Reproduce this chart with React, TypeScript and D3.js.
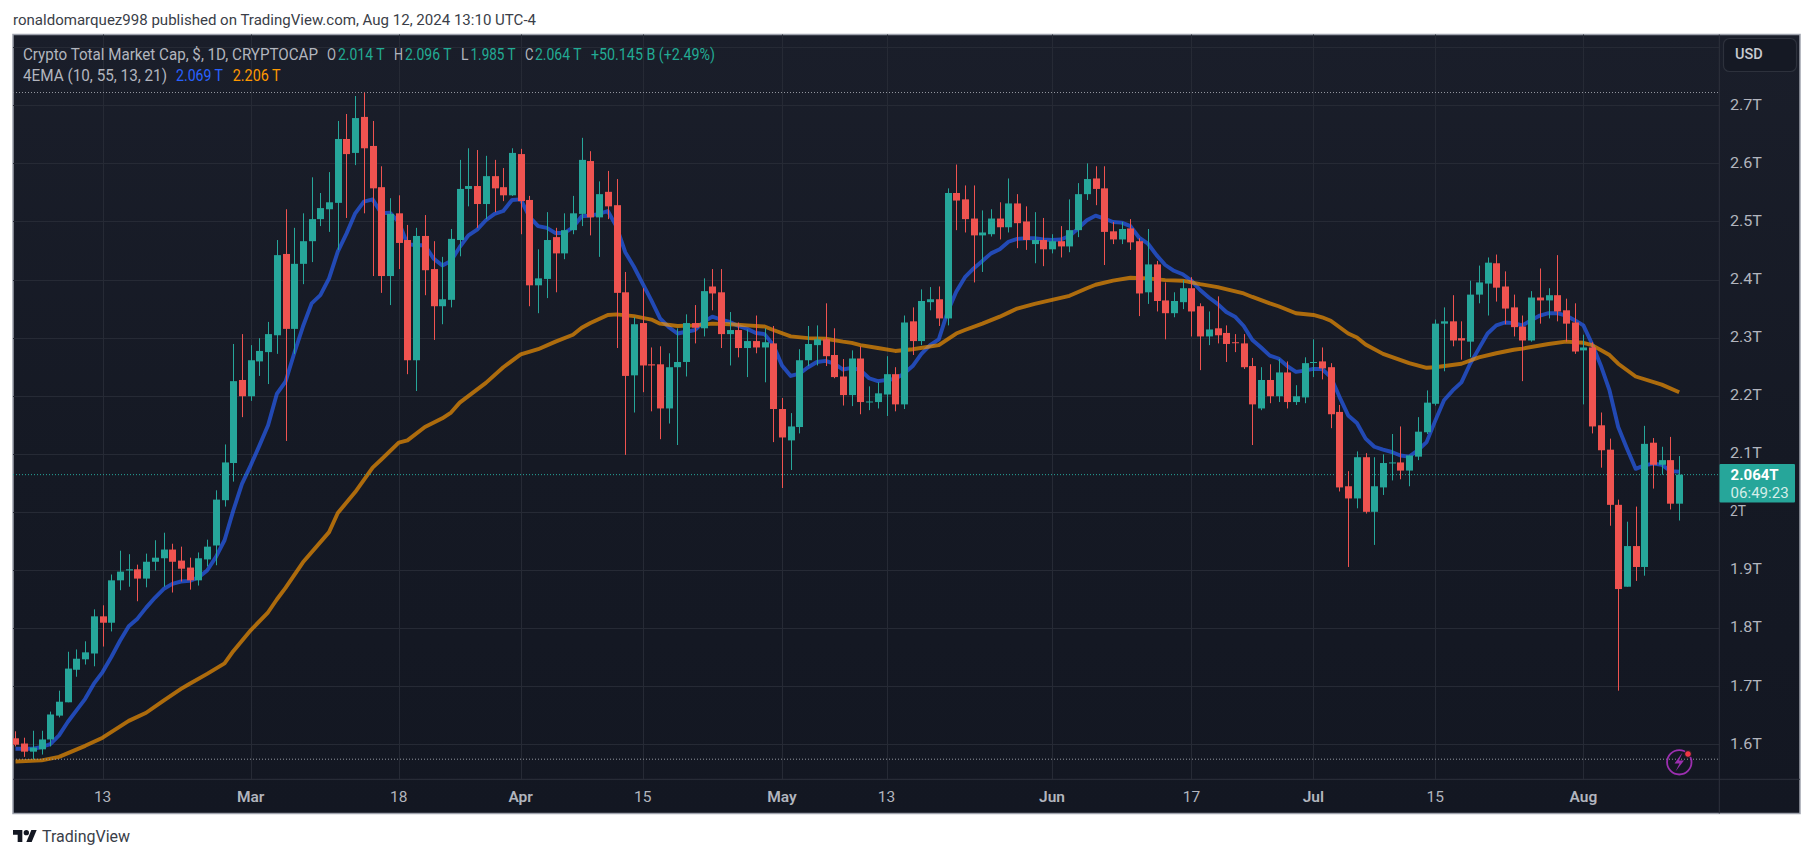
import React from "react";
import * as d3 from "d3";

// Calendar: day 0 is 13 Feb 2024, one candle per day from day -10 to day 181
const firstDay = -10;
const opens = [1.610,1.601,1.587,1.591,1.608,1.649,1.672,1.728,1.746,1.756,
1.820,1.809,1.882,1.899,1.901,1.885,1.914,1.920,1.935,1.916,
1.904,1.882,1.918,1.942,2.020,2.084,2.227,2.199,2.259,2.275,
2.304,2.444,2.315,2.427,2.466,2.504,2.521,2.532,2.642,2.618,
2.680,2.630,2.559,2.406,2.514,2.468,2.261,2.475,2.418,2.354,
2.365,2.468,2.556,2.561,2.530,2.578,2.559,2.545,2.616,2.537,
2.390,2.401,2.473,2.445,2.485,2.513,2.604,2.507,2.551,2.528,
2.378,2.235,2.325,2.254,2.254,2.178,2.249,2.258,2.325,2.316,
2.388,2.378,2.306,2.313,2.282,2.294,2.283,2.290,2.177,2.123,
2.146,2.261,2.287,2.297,2.270,2.233,2.201,2.264,2.189,2.189,
2.202,2.237,2.185,2.328,2.294,2.361,2.366,2.333,2.549,2.538,
2.505,2.476,2.478,2.505,2.490,2.531,2.500,2.461,2.468,2.452,
2.466,2.457,2.485,2.547,2.574,2.557,2.483,2.469,2.488,2.466,
2.378,2.426,2.364,2.342,2.361,2.385,2.354,2.302,2.316,2.308,
2.292,2.290,2.251,2.178,2.227,2.199,2.240,2.189,2.197,2.257,
2.259,2.249,2.172,2.044,2.023,2.094,2.000,2.042,2.084,2.085,
2.071,2.095,2.137,2.186,2.324,2.328,2.299,2.293,2.374,2.393,
2.428,2.388,2.352,2.319,2.295,2.369,2.364,2.373,2.347,2.326,
2.278,2.283,2.149,2.107,2.012,1.871,1.941,1.905,2.119,2.081,
2.089,2.014];
const closes = [1.599,1.587,1.594,1.608,1.651,1.673,1.730,1.747,1.758,1.820,
1.809,1.882,1.897,1.901,1.885,1.914,1.921,1.935,1.914,1.902,
1.882,1.920,1.940,2.021,2.085,2.225,2.199,2.261,2.277,2.306,
2.442,2.315,2.427,2.466,2.504,2.523,2.533,2.642,2.616,2.678,
2.626,2.557,2.406,2.513,2.463,2.261,2.475,2.416,2.354,2.366,
2.470,2.556,2.561,2.530,2.578,2.557,2.545,2.618,2.535,2.390,
2.402,2.468,2.445,2.485,2.514,2.606,2.507,2.547,2.526,2.377,
2.234,2.323,2.252,2.252,2.178,2.249,2.258,2.325,2.317,2.380,
2.376,2.306,2.313,2.282,2.294,2.283,2.292,2.177,2.128,2.147,
2.261,2.289,2.297,2.268,2.232,2.201,2.264,2.189,2.190,2.204,
2.237,2.185,2.326,2.294,2.363,2.366,2.333,2.549,2.536,2.504,
2.476,2.481,2.505,2.490,2.531,2.497,2.468,2.468,2.452,2.466,
2.457,2.485,2.547,2.573,2.556,2.482,2.469,2.487,2.464,2.376,
2.426,2.363,2.342,2.363,2.385,2.345,2.302,2.314,2.304,2.289,
2.291,2.249,2.185,2.227,2.199,2.240,2.189,2.199,2.256,2.258,
2.247,2.168,2.042,2.023,2.094,2.000,2.044,2.084,2.085,2.071,
2.097,2.138,2.188,2.324,2.328,2.295,2.295,2.374,2.395,2.429,
2.386,2.350,2.318,2.295,2.369,2.364,2.373,2.345,2.324,2.276,
2.283,2.147,2.106,2.012,1.867,1.941,1.905,2.117,2.081,2.089,
2.014,2.064];
const highs = [1.622,1.611,1.623,1.623,1.656,1.692,1.759,1.763,1.777,1.832,
1.839,1.892,1.933,1.927,1.909,1.928,1.951,1.964,1.945,1.940,
1.921,1.930,1.952,2.037,2.116,2.289,2.306,2.287,2.299,2.327,
2.468,2.521,2.489,2.514,2.576,2.549,2.585,2.673,2.685,2.716,
2.722,2.673,2.595,2.540,2.545,2.494,2.489,2.511,2.466,2.439,
2.487,2.606,2.626,2.623,2.613,2.606,2.592,2.626,2.625,2.544,
2.452,2.516,2.489,2.514,2.544,2.644,2.621,2.569,2.587,2.573,
2.413,2.335,2.385,2.283,2.285,2.273,2.316,2.340,2.356,2.402,
2.418,2.418,2.344,2.326,2.314,2.338,2.316,2.320,2.196,2.170,
2.280,2.320,2.321,2.359,2.316,2.263,2.278,2.285,2.216,2.223,
2.268,2.249,2.338,2.352,2.383,2.387,2.388,2.557,2.598,2.562,
2.562,2.519,2.521,2.533,2.574,2.547,2.526,2.516,2.506,2.478,
2.492,2.538,2.566,2.600,2.595,2.595,2.499,2.499,2.504,2.471,
2.487,2.432,2.395,2.378,2.399,2.404,2.359,2.345,2.371,2.321,
2.306,2.306,2.265,2.249,2.254,2.263,2.259,2.218,2.266,2.297,
2.283,2.256,2.184,2.070,2.104,2.101,2.094,2.099,2.134,2.147,
2.097,2.163,2.209,2.331,2.352,2.373,2.328,2.398,2.424,2.438,
2.443,2.414,2.374,2.338,2.380,2.419,2.385,2.442,2.367,2.359,
2.305,2.292,2.171,2.126,2.021,1.983,2.009,2.148,2.127,2.112,
2.129,2.096];
const lows = [1.596,1.578,1.574,1.582,1.596,1.646,1.672,1.716,1.737,1.734,
1.768,1.794,1.865,1.871,1.846,1.870,1.899,1.871,1.861,1.880,
1.866,1.873,1.906,1.908,2.009,2.052,2.163,2.191,2.234,2.220,
2.272,2.122,2.272,2.392,2.430,2.492,2.482,2.451,2.506,2.597,
2.514,2.406,2.377,2.356,2.418,2.237,2.208,2.373,2.296,2.323,
2.352,2.440,2.526,2.489,2.504,2.516,2.535,2.544,2.478,2.354,
2.342,2.368,2.378,2.435,2.478,2.492,2.476,2.439,2.504,2.282,
2.098,2.171,2.206,2.173,2.125,2.152,2.115,2.233,2.290,2.302,
2.347,2.282,2.252,2.266,2.232,2.273,2.223,2.120,2.041,2.072,
2.135,2.251,2.252,2.251,2.230,2.183,2.182,2.168,2.175,2.178,
2.165,2.173,2.177,2.270,2.287,2.347,2.320,2.321,2.485,2.481,
2.395,2.413,2.474,2.469,2.481,2.454,2.451,2.428,2.423,2.445,
2.438,2.447,2.473,2.537,2.528,2.425,2.461,2.461,2.451,2.337,
2.358,2.345,2.297,2.335,2.349,2.302,2.244,2.287,2.290,2.258,
2.275,2.246,2.115,2.175,2.187,2.189,2.178,2.184,2.187,2.232,
2.228,2.144,2.035,1.905,2.006,1.997,1.943,2.029,2.054,2.056,
2.044,2.089,2.134,2.183,2.242,2.285,2.262,2.266,2.359,2.338,
2.362,2.323,2.302,2.225,2.293,2.324,2.333,2.328,2.293,2.272,
2.185,2.135,2.076,1.976,1.692,1.871,1.881,1.890,2.040,2.064,
2.004,1.985];

const fastEma = [1.592,1.592,1.592,1.595,1.600,1.615,1.638,1.658,1.678,1.704,
1.724,1.750,1.778,1.803,1.816,1.835,1.852,1.867,1.876,1.880,
1.881,1.887,1.899,1.922,1.951,2.002,2.048,2.080,2.114,2.149,
2.203,2.224,2.273,2.319,2.359,2.373,2.402,2.448,2.479,2.514,
2.534,2.538,2.514,2.515,2.499,2.461,2.459,2.459,2.436,2.424,
2.432,2.456,2.476,2.486,2.502,2.513,2.518,2.537,2.538,2.508,
2.492,2.489,2.480,2.480,2.490,2.509,2.510,2.513,2.518,2.491,
2.447,2.422,2.393,2.364,2.333,2.318,2.307,2.310,2.313,2.327,
2.336,2.331,2.327,2.320,2.315,2.308,2.306,2.287,2.252,2.234,
2.238,2.249,2.258,2.260,2.255,2.245,2.248,2.244,2.230,2.225,
2.227,2.229,2.238,2.251,2.272,2.287,2.297,2.344,2.379,2.404,
2.419,2.432,2.445,2.452,2.465,2.470,2.471,2.471,2.469,2.468,
2.469,2.475,2.488,2.502,2.510,2.505,2.499,2.498,2.492,2.472,
2.462,2.442,2.425,2.415,2.409,2.398,2.382,2.369,2.358,2.344,
2.336,2.320,2.296,2.283,2.269,2.264,2.251,2.241,2.243,2.246,
2.246,2.232,2.198,2.166,2.153,2.126,2.112,2.107,2.103,2.097,
2.095,2.106,2.120,2.157,2.192,2.209,2.223,2.255,2.281,2.307,
2.321,2.326,2.325,2.321,2.330,2.338,2.342,2.342,2.338,2.330,
2.321,2.289,2.252,2.209,2.146,2.109,2.074,2.080,2.083,2.081,
2.070,2.069];

const slowEmaDays = [-10,-7,-5,-2,0,3,5,7,9,10,12,14,15,17,19,20,21,23,26,27,29,31,32,34,35,37,39,40,41,44,46,48,50,52,54,55,56,58,59,61,63,64,66,68,70,72,74,76,77,79,81,83,85,86,87,89,91,93,96,98,99,101,103,104,105,107,109,111,113,114,116,118,120,122,124,126,128,131,132,134,135,137,139,140,141,143,144,145,147,150,152,153,156,158,160,162,163,166,168,170,171,173,174,176,179,181];
const slowEma = [1.570,1.572,1.578,1.597,1.611,1.640,1.654,1.675,1.695,1.704,1.721,1.739,1.760,1.796,1.827,1.849,1.869,1.913,1.965,1.998,2.034,2.076,2.090,2.119,2.123,2.146,2.161,2.171,2.188,2.222,2.249,2.271,2.280,2.293,2.305,2.317,2.325,2.339,2.340,2.337,2.331,2.324,2.320,2.321,2.324,2.323,2.321,2.319,2.313,2.302,2.299,2.298,2.293,2.291,2.287,2.282,2.277,2.280,2.287,2.307,2.313,2.324,2.336,2.343,2.350,2.358,2.365,2.372,2.385,2.391,2.398,2.403,2.402,2.399,2.398,2.392,2.387,2.376,2.370,2.359,2.354,2.342,2.339,2.335,2.329,2.307,2.300,2.288,2.272,2.256,2.248,2.249,2.255,2.266,2.273,2.279,2.281,2.289,2.293,2.291,2.287,2.270,2.255,2.233,2.219,2.206];

const priceTicks = [1.6,1.7,1.8,1.9,2.0,2.1,2.2,2.3,2.4,2.5,2.6,2.7];
const extraGrid = [2.8];
const priceTickLabels = ["1.6T","1.7T","1.8T","1.9T","2T","2.1T","2.2T","2.3T","2.4T","2.5T","2.6T","2.7T"];
const timeTickDays = [0,17,34,48,62,78,90,109,125,139,153,170];
const timeTickLabels = ["13","Mar","18","Apr","15","May","13","Jun","17","Jul","15","Aug"];
const monthLabels = ["Mar","Apr","May","Jun","Jul","Aug"];
const highMark = 2.722;
const lowMark = 1.574;
const lastPrice = 2.064;

const GREEN = "#26a69a";
const RED = "#ef5350";
const GRID = "#262a35";
const LABEL = "#b2b5be";
const FONT = "Roboto, 'Liberation Sans', sans-serif";

const frame = { left: 13, right: 1800, top: 34.5, bottom: 813.5, axisX: 1719.3, axisY: 779.3 };

const x = d3.scaleLinear().domain([0, 181]).range([102.6, 1679.2]);
const y = d3.scaleLinear().domain([1.6, 2.7]).range([744.1, 105.3]);

const candles = opens.map((o, i) => ({ day: firstDay + i, o, c: closes[i], h: highs[i], l: lows[i] }));

const fastLine = d3.line<number>().x((_, i) => x(firstDay + i)).y((v) => y(v))(fastEma) as string;
const slowLine = d3.line<number>().x((_, i) => x(slowEmaDays[i])).y((v) => y(v))(slowEma) as string;

function T(props: { x: number; y: number; w?: number; size?: number; fill?: string; weight?: number; anchor?: string; children: string }) {
  const { x: tx, y: ty, w, size = 15, fill = LABEL, weight = 400, anchor = "start", children } = props;
  return (
    <text
      x={tx}
      y={ty}
      fontFamily={FONT}
      fontSize={size}
      fontWeight={weight}
      fill={fill}
      textAnchor={anchor}
      dominantBaseline="central"
      {...(w ? { textLength: w, lengthAdjust: "spacingAndGlyphs" } : {})}
    >
      {children}
    </text>
  );
}

export default function App() {
  return (
    <>
      <style>{`html,body{margin:0;padding:0;background:#fff}`}</style>
      <svg width={1814} height={858} style={{ display: "block" }}>
        <defs>
          <linearGradient id="bg" x1="0" y1="0" x2="0" y2="1">
            <stop offset="0" stopColor="#1a1e2a" />
            <stop offset="0.55" stopColor="#151924" />
            <stop offset="1" stopColor="#131722" />
          </linearGradient>
          <clipPath id="plot">
            <rect x={frame.left} y={frame.top} width={frame.axisX - frame.left} height={frame.axisY - frame.top} />
          </clipPath>
        </defs>
        <rect width={1814} height={858} fill="#fff" />
        <T x={13} y={20} w={523} size={15} fill="#3a3e48">ronaldomarquez998 published on TradingView.com, Aug 12, 2024 13:10 UTC-4</T>

        <rect x={frame.left} y={frame.top} width={frame.right - frame.left} height={frame.bottom - frame.top} fill="url(#bg)" stroke="#9ea2ad" strokeWidth={1.5} />

        <g stroke={GRID} strokeWidth={1}>
          {priceTicks.concat(extraGrid).map((t) => (
            <line key={t} x1={frame.left} x2={frame.axisX} y1={Math.round(y(t)) + 0.5} y2={Math.round(y(t)) + 0.5} />
          ))}
          {timeTickDays.map((d) => (
            <line key={d} x1={Math.round(x(d)) + 0.5} x2={Math.round(x(d)) + 0.5} y1={frame.top} y2={frame.axisY} />
          ))}
          <line x1={frame.left} x2={frame.right} y1={frame.axisY} y2={frame.axisY} stroke="#2d313c" />
          <line x1={frame.axisX} x2={frame.axisX} y1={frame.top} y2={frame.bottom} stroke="#2d313c" />
        </g>

        <g clipPath="url(#plot)">
          <path d={fastLine} fill="none" stroke="#2962ff" strokeOpacity={0.66} strokeWidth={3.9} strokeLinejoin="round" />
          <path d={slowLine} fill="none" stroke="#ff9800" strokeOpacity={0.65} strokeWidth={3.9} strokeLinejoin="round" />

          {[highMark, lowMark].map((v) => (
            <line key={v} x1={frame.left} x2={frame.axisX} y1={y(v)} y2={y(v)} stroke="#9598a1" strokeWidth={1} strokeDasharray="1 2" />
          ))}
          <line x1={frame.left} x2={frame.axisX} y1={y(lastPrice)} y2={y(lastPrice)} stroke={GREEN} strokeWidth={1} strokeDasharray="1 2" />

          {candles.map((k) => {
            const color = k.c >= k.o ? GREEN : RED;
            const cx = Math.round(x(k.day)) + 0.5;
            const top = y(Math.max(k.o, k.c));
            const bottom = y(Math.min(k.o, k.c));
            return (
              <g key={k.day}>
                <line x1={cx} x2={cx} y1={y(k.h)} y2={y(k.l)} stroke={color} strokeWidth={1} />
                <rect x={cx - 3.5} y={top} width={7} height={Math.max(bottom - top, 1)} fill={color} />
              </g>
            );
          })}
        </g>

        {/* legend */}
        <T x={23} y={54} w={295} size={16}>Crypto Total Market Cap, $, 1D, CRYPTOCAP</T>
        <T x={327} y={54} w={9} size={16}>O</T>
        <T x={338} y={54} w={46.5} size={16} fill="#22ab94">2.014 T</T>
        <T x={394} y={54} w={9} size={16}>H</T>
        <T x={405} y={54} w={46.5} size={16} fill="#22ab94">2.096 T</T>
        <T x={461} y={54} w={7.5} size={16}>L</T>
        <T x={470.5} y={54} w={45} size={16} fill="#22ab94">1.985 T</T>
        <T x={525} y={54} w={8.5} size={16}>C</T>
        <T x={535} y={54} w={46.5} size={16} fill="#22ab94">2.064 T</T>
        <T x={591} y={54} w={124} size={16} fill="#22ab94">+50.145 B (+2.49%)</T>
        <T x={23} y={75} w={144} size={16}>4EMA (10, 55, 13, 21)</T>
        <T x={176} y={75} w={47} size={16} fill="#2962ff">2.069 T</T>
        <T x={232.7} y={75} w={48} size={16} fill="#ff9800">2.206 T</T>

        {/* price axis */}
        {priceTicks.map((t, i) => (
          <T key={t} x={1730} y={y(t) - 0.5} size={15.5} w={priceTickLabels[i].length > 2 ? 32 : 16}>{priceTickLabels[i]}</T>
        ))}
        <rect x={1723.5} y={38.5} width={73} height={33} rx={6} fill="#151924" stroke="#2d313c" strokeWidth={1.2} />
        <T x={1735} y={54.5} size={14.5} weight={500} fill="#c8cad0">USD</T>

        <rect x={1719.5} y={464} width={75.5} height={38.5} rx={1} fill={GREEN} />
        <T x={1730.6} y={474.8} w={48} size={15.5} weight={700} fill="#ffffff">2.064T</T>
        <T x={1730.6} y={492.7} w={58} size={15} fill="#d6ede9">06:49:23</T>

        {/* time axis */}
        {timeTickDays.map((d, i) => (
          <T key={d} x={x(d)} y={796.8} size={15.5} anchor="middle" weight={monthLabels.includes(timeTickLabels[i]) ? 600 : 400}>
            {timeTickLabels[i]}
          </T>
        ))}

        {/* data-status mark */}
        <circle cx={1679.3} cy={762.3} r={12.2} fill="none" stroke="#9c2fb0" strokeWidth={1.8} />
        <path d="M1682.5 752.5 L1674.5 763.5 L1679.5 763.5 L1675.5 771.5 L1684 760.5 L1679 760.5 Z" fill="#9c2fb0" />
        <circle cx={1688} cy={754} r={3.4} fill="#f23645" stroke="#131722" strokeWidth={1} />

        {/* footer logo */}
        <g transform="translate(13 830) scale(0.667)" fill="#131722">
          <path d="M14 18H7V7H0V0h14v18z" />
          <path d="M28 18h-8l7.5-18h8L28 18z" />
          <circle cx="20" cy="4" r="4" />
        </g>
        <T x={42} y={836.5} w={88} size={16} fill="#3a3e48">TradingView</T>
      </svg>
    </>
  );
}
